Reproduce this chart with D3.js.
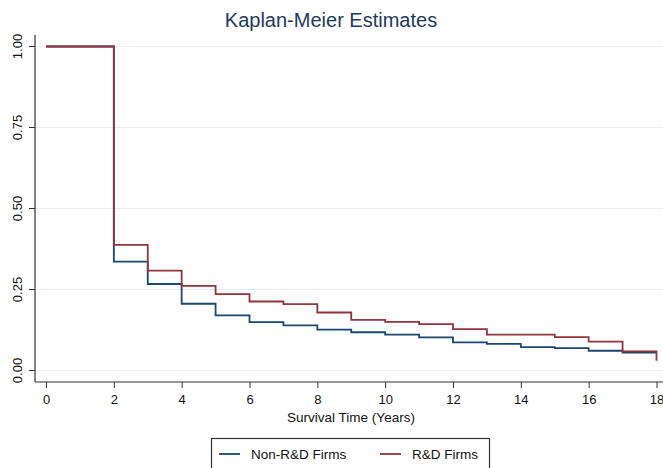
<!DOCTYPE html>
<html>
<head>
<meta charset="utf-8">
<script src="https://cdn.jsdelivr.net/npm/d3@7"></script>
<style>
  body { margin: 0; background: #fff; }
  svg { display: block; font-family: "Liberation Sans", Arial, sans-serif; }
</style>
</head>
<body>
<script>
// survival time in years, and KM estimates per group
const times = [0, 2, 3, 4, 5, 6, 7, 8, 9, 10, 11, 12, 13, 14, 15, 16, 17, 18];
const nonRD = [1.00, 0.336, 0.267, 0.206, 0.170, 0.149, 0.139, 0.126, 0.118, 0.111, 0.102, 0.087, 0.082, 0.072, 0.069, 0.061, 0.055, 0.055];
const rd    = [1.00, 0.388, 0.308, 0.261, 0.236, 0.213, 0.205, 0.179, 0.156, 0.150, 0.143, 0.128, 0.111, 0.111, 0.103, 0.089, 0.059, 0.030];
const xTicks = [0, 2, 4, 6, 8, 10, 12, 14, 16, 18];
const yTicks = [0, 0.25, 0.5, 0.75, 1];
const seriesNames = ["Non-R&D Firms", "R&D Firms"];
const seriesColors = ["#1a476f", "#90353b"];

const W = 663, H = 468;
const svg = d3.select("body").append("svg").attr("width", W).attr("height", H);

const x = d3.scaleLinear().domain([0, 18]).range([46, 656.5]);
const y = d3.scaleLinear().domain([0, 1]).range([370.5, 46.5]);
const axisX = 35, axisY = 382;

// title
svg.append("text")
  .attr("x", 331).attr("y", 27)
  .attr("text-anchor", "middle")
  .attr("font-size", 20)
  .attr("fill", "#1e3a5f")
  .text("Kaplan-Meier Estimates");

// gridlines
svg.append("g").selectAll("line")
  .data(yTicks)
  .enter().append("line")
  .attr("x1", axisX).attr("x2", W)
  .attr("y1", d => y(d)).attr("y2", d => y(d))
  .attr("stroke", "#e6eef1")
  .attr("stroke-width", 1.2);

// y axis
const gy = svg.append("g").attr("transform", `translate(${axisX},0)`)
  .call(d3.axisLeft(y).tickValues(yTicks).tickFormat(d3.format(".2f")).tickSize(6).tickPadding(3));
gy.select(".domain").attr("d", `M0,35V${axisY}`).attr("stroke", "#333").attr("stroke-width", 1.2);
gy.selectAll(".tick line").attr("stroke", "#333");
gy.selectAll(".tick text")
  .attr("font-size", 13).attr("fill", "#111")
  .attr("text-anchor", "middle")
  .attr("transform", d => `translate(-18,${y(d)}) rotate(-90)`)
  .attr("x", 0).attr("dy", "0.35em")
  .attr("y", 0);
gy.selectAll(".tick").attr("transform", null);
gy.selectAll(".tick line").attr("transform", d => `translate(0,${y(d)})`);

// x axis
const gx = svg.append("g").attr("transform", `translate(0,${axisY})`)
  .call(d3.axisBottom(x).tickValues(xTicks).tickSize(6).tickPadding(7));
gx.select(".domain").attr("d", `M${axisX},0H${W}`).attr("stroke", "#333").attr("stroke-width", 1.2);
gx.selectAll(".tick line").attr("stroke", "#333");
gx.selectAll(".tick text").attr("font-size", 13).attr("fill", "#111");

svg.append("text")
  .attr("x", 351).attr("y", 422)
  .attr("text-anchor", "middle")
  .attr("font-size", 13.5)
  .attr("fill", "#111")
  .text("Survival Time (Years)");

// step lines
const line = d3.line()
  .x(d => x(d[0])).y(d => y(d[1]))
  .curve(d3.curveStepAfter);

[nonRD, rd].forEach((vals, i) => {
  const pts = times.map((t, j) => [t, vals[j]]);
  svg.append("path")
    .datum(pts)
    .attr("d", line)
    .attr("fill", "none")
    .attr("stroke", seriesColors[i])
    .attr("stroke-width", 1.8);
});

// legend
const lg = svg.append("g");
lg.append("rect")
  .attr("x", 211.5).attr("y", 438.5)
  .attr("width", 278).attr("height", 40)
  .attr("fill", "#fff").attr("stroke", "#333").attr("stroke-width", 1.2);
const legX = [219, 380];
seriesNames.forEach((name, i) => {
  lg.append("line")
    .attr("x1", legX[i]).attr("x2", legX[i] + 21)
    .attr("y1", 454).attr("y2", 454)
    .attr("stroke", seriesColors[i]).attr("stroke-width", 1.8);
  lg.append("text")
    .attr("x", legX[i] + 32).attr("y", 459)
    .attr("font-size", 13.5).attr("fill", "#111")
    .text(name);
});
</script>
</body>
</html>
